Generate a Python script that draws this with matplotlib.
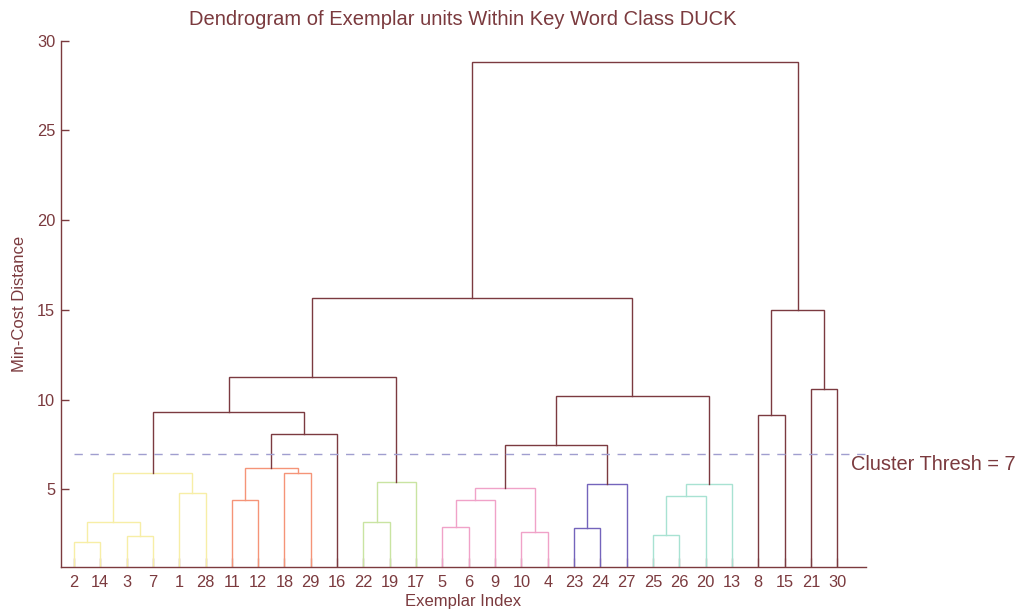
import matplotlib
matplotlib.use("Agg")
import matplotlib.pyplot as plt

plt.rcParams['font.family'] = ['Liberation Sans', 'DejaVu Sans']

# ---- data ----
leaf_order = [2, 14, 3, 7, 1, 28, 11, 12, 18, 29, 16, 22, 19, 17, 5, 6, 9, 10, 4,
              23, 24, 27, 25, 26, 20, 13, 8, 15, 21, 30]
n_leaves = 30
# merge k creates node id n_leaves + k (k = 1..29); ids <= 30 are exemplars
merge_left = [2, 3, 31, 1, 33, 11, 18, 36, 38, 35, 22, 41, 40, 5, 44, 10, 45,
              23, 48, 47, 25, 51, 52, 50, 43, 8, 21, 56, 55]
merge_right = [14, 7, 32, 28, 34, 12, 29, 37, 16, 39, 19, 17, 42, 6, 9, 4, 46,
               24, 27, 49, 26, 20, 13, 53, 54, 15, 30, 57, 58]
merge_height = [2.06, 2.39, 3.18, 4.83, 5.92, 4.39, 5.92, 6.20, 8.09, 9.31,
                3.17, 5.42, 11.26, 2.89, 4.39, 2.61, 5.07, 2.83, 5.28, 7.46,
                2.48, 4.61, 5.28, 10.18, 15.67, 9.17, 10.61, 15.00, 28.80]
merge_group = ['yellow', 'yellow', 'yellow', 'yellow', 'yellow',
               'red', 'red', 'red', 'top', 'top',
               'green', 'green', 'top', 'pink', 'pink', 'pink', 'pink',
               'purple', 'purple', 'top', 'cyan', 'cyan', 'cyan', 'top', 'top',
               'top', 'top', 'top', 'top']
threshold = 7
y_ticks = [5, 10, 15, 20, 25, 30]

group_colors = {'yellow': '#f7eea6', 'red': '#f59478', 'green': '#c9e4a2',
                'pink': '#f0a2c8', 'purple': '#7464bc', 'cyan': '#a8e2d2',
                'top': '#7b3a40'}
text_color = '#7b3a3e'

# ---- figure ----
fig = plt.figure(figsize=(10.24, 6.14), dpi=100)
ax = fig.add_axes([0.0593, 0.0765, 0.7861, 0.8572])

xpos = {leaf: i + 1 for i, leaf in enumerate(leaf_order)}
ypos = {leaf: 0.0 for leaf in leaf_order}
for k, (l, r, h, g) in enumerate(zip(merge_left, merge_right, merge_height, merge_group)):
    node = n_leaves + k + 1
    xl, xr = xpos[l], xpos[r]
    ax.plot([xl, xl, xr, xr], [ypos[l], h, h, ypos[r]],
            color=group_colors[g], lw=1.0, solid_joinstyle='miter')
    xpos[node] = (xl + xr) / 2
    ypos[node] = h

ax.plot([1, 31.08], [threshold, threshold], color='#a09ecf', lw=1.0,
        linestyle=(0, (6, 5.5)))
ax.text(30.52, 6.4, 'Cluster Thresh = %d' % threshold, color=text_color,
        fontsize=14.4, ha='left', va='center', clip_on=False)

ax.set_xlim(0.5, 31.08)
ax.set_ylim(0.68, 30)
ax.set_xticks(range(1, n_leaves + 1))
ax.set_xticklabels([str(v) for v in leaf_order])
ax.set_yticks(y_ticks)

for s in ['top', 'right']:
    ax.spines[s].set_visible(False)
for s in ['left', 'bottom']:
    ax.spines[s].set_color(text_color)
    ax.spines[s].set_linewidth(1.0)

ax.tick_params(axis='x', direction='in', length=6.5, width=1.0,
               color=(0.48, 0.23, 0.25, 0.55), labelcolor=text_color,
               labelsize=11.8, pad=5.5)
ax.tick_params(axis='y', direction='in', length=5.5, width=1.0,
               color=text_color, labelcolor=text_color, labelsize=11.8, pad=4)

ax.set_title('Dendrogram of Exemplar units Within Key Word Class DUCK',
             color=text_color, fontsize=14.5, pad=11)
ax.set_xlabel('Exemplar Index', color=text_color, fontsize=12, labelpad=3)
ax.set_ylabel('Min-Cost Distance', color=text_color, fontsize=12, labelpad=7)

fig.savefig('out.png', dpi=100)
